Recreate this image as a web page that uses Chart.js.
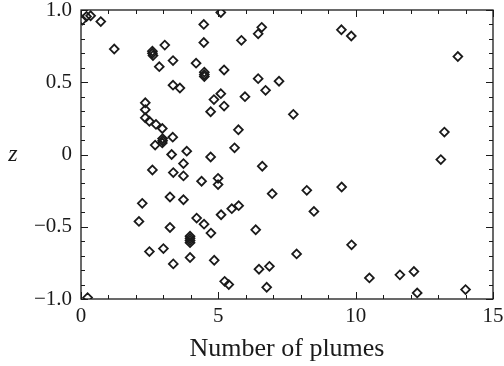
<!DOCTYPE html>
<html>
<head>
<meta charset="utf-8">
<script src="https://cdn.jsdelivr.net/npm/chart.js@4"></script>
<style>
  body { margin: 0; background: #fff; }
  #wrap { width: 504px; height: 366px; }
</style>
</head>
<body>
<div id="wrap"><canvas id="graph" width="504" height="366"></canvas></div>
<script>
//plume counts and z positions
let plumes = [
    0.05, 0.2, 0.35, 0.72, 1.21,
    2.6, 2.6, 2.62, 3.05, 2.85, 3.35, 3.35, 3.6,
    2.34, 2.34, 2.34, 2.49, 2.73, 2.96,
    2.97, 2.97, 2.96, 2.7, 3.34, 3.3, 3.85,
    4.19, 4.47, 4.47, 4.49, 4.49, 4.49,
    4.84, 4.72, 4.72, 5.09,
    6.58, 6.45, 5.84, 5.21, 6.45, 7.21, 6.72, 5.09, 5.97, 5.21, 7.73, 5.73, 5.59,
    9.48, 9.84, 13.72, 13.23, 13.1,
    9.49, 9.85, 10.5, 11.61, 12.12, 12.24, 14.0,
    6.6, 4.39, 4.99, 4.99, 6.96, 8.22, 8.48, 5.74, 5.49, 5.1,
    4.48, 4.73, 6.36, 4.85, 7.85, 6.48, 6.86, 5.23, 5.38, 6.76,
    2.6, 3.36, 3.73, 3.73, 3.24, 3.73, 2.23, 2.11, 3.24, 4.21,
    3.97, 3.97, 3.97, 3.97,
    2.49, 3.0, 3.97, 3.36, 0.24
];

let zValues = [
    0.93, 0.955, 0.96, 0.92, 0.73,
    0.715, 0.70, 0.685, 0.757, 0.608, 0.65, 0.48, 0.46,
    0.358, 0.31, 0.254, 0.23, 0.208, 0.18,
    0.11, 0.095, 0.08, 0.065, 0.12, 0.0, 0.023,
    0.632, 0.90, 0.775, 0.57, 0.553, 0.54,
    0.38, 0.296, -0.017, 0.983,
    0.88, 0.835, 0.79, 0.585, 0.525, 0.507, 0.444, 0.421, 0.40, 0.335, 0.278, 0.171, 0.046,
    0.863, 0.82, 0.678, 0.155, -0.035,
    -0.225, -0.625, -0.854, -0.833, -0.81, -0.958, -0.935,
    -0.081, -0.185, -0.165, -0.208, -0.271, -0.248, -0.394, -0.354, -0.375, -0.417,
    -0.482, -0.544, -0.521, -0.732, -0.688, -0.794, -0.774, -0.878, -0.90, -0.919,
    -0.107, -0.125, -0.063, -0.148, -0.294, -0.313, -0.338, -0.463, -0.505, -0.44,
    -0.565, -0.58, -0.595, -0.61,
    -0.672, -0.651, -0.713, -0.757, -0.99
];

//axis ticks
let xTicks = [0, 5, 10, 15];
let yTicks = [-1.0, -0.5, 0, 0.5, 1.0];

const SERIF = "'Liberation Serif', 'DejaVu Serif', serif";
const INK = "#1a1a1a";

/**********/
function formatZ(v)
{
    if(v === 0) { return "0"; }
    return (v < 0 ? "\u2212" : "") + Math.abs(v).toFixed(1);
}

/**********/
//frame with inward ticks on all four sides plus the upright z label
const framePlugin =
{
    id: "frame",

    afterDraw(chart)
    {
        let ctx = chart.ctx;
        let area = chart.chartArea;
        let xs = chart.scales.x;
        let ys = chart.scales.y;

        ctx.save();
        ctx.strokeStyle = INK;
        ctx.lineWidth = 1.3;
        ctx.strokeRect(area.left, area.top, area.right - area.left, area.bottom - area.top);

        ctx.lineWidth = 1;
        ctx.beginPath();
        for(let i = 0; i <= 15; i++)
        {
            let px = Math.round(xs.getPixelForValue(i)) + 0.5;
            let len = (i % 5 === 0) ? 7 : 4;
            ctx.moveTo(px, area.bottom); ctx.lineTo(px, area.bottom - len);
            ctx.moveTo(px, area.top); ctx.lineTo(px, area.top + len);
        }
        for(let i = -10; i <= 10; i++)
        {
            let py = Math.round(ys.getPixelForValue(i / 10)) + 0.5;
            let len = (i % 5 === 0) ? 7 : 4;
            ctx.moveTo(area.left, py); ctx.lineTo(area.left + len, py);
            ctx.moveTo(area.right, py); ctx.lineTo(area.right - len, py);
        }
        ctx.stroke();

        ctx.fillStyle = INK;
        ctx.font = "italic 24px " + SERIF;
        ctx.textAlign = "center";
        ctx.textBaseline = "middle";
        ctx.fillText("z", 13, (area.top + area.bottom) / 2);
        ctx.restore();
    }
};

/**********/
function displayGraph()
{
    let points = [];
    for(let i = 0; i < plumes.length; i++)
    {
        points.push({ x: plumes[i], y: zValues[i] });
    }

    const ctx = document.getElementById("graph");

    window.graph = new Chart(ctx,
    {
        type: "scatter",

        data:
        {
            datasets: [{
                data: points,
                pointStyle: "rectRot",
                pointRadius: 4.4,
                pointBorderWidth: 1.8,
                borderColor: INK,
                backgroundColor: "rgba(0,0,0,0)"
            }]
        },

        options:
        {
            responsive: false,
            animation: false,
            layout: { padding: { top: 10, right: 11, left: 0, bottom: 0 } },
            plugins: { legend: { display: false }, tooltip: { enabled: false } },
            scales:
            {
                x:
                {
                    type: "linear",
                    min: 0, max: 15,
                    afterBuildTicks: (scale) => { scale.ticks = xTicks.map(v => ({ value: v })); },
                    afterFit: (scale) => { scale.height = 67; scale.paddingLeft = 0; scale.paddingRight = 0; },
                    grid: { display: false, drawTicks: false },
                    border: { display: false },
                    ticks: { color: INK, padding: 5, font: { family: SERIF, size: 21 } },
                    title:
                    {
                        display: true,
                        text: "Number of plumes",
                        color: INK,
                        padding: { top: 0, bottom: 1 },
                        font: { family: SERIF, size: 26 }
                    }
                },
                y:
                {
                    type: "linear",
                    min: -1, max: 1,
                    afterBuildTicks: (scale) => { scale.ticks = yTicks.map(v => ({ value: v })); },
                    afterFit: (scale) => { scale.width = 81; scale.paddingTop = 0; scale.paddingBottom = 0; },
                    grid: { display: false, drawTicks: false },
                    border: { display: false },
                    ticks:
                    {
                        color: INK,
                        padding: 9,
                        font: { family: SERIF, size: 21 },
                        callback: (v) => formatZ(v)
                    }
                }
            }
        },

        plugins: [framePlugin]
    });
}

displayGraph();
</script>
</body>
</html>
